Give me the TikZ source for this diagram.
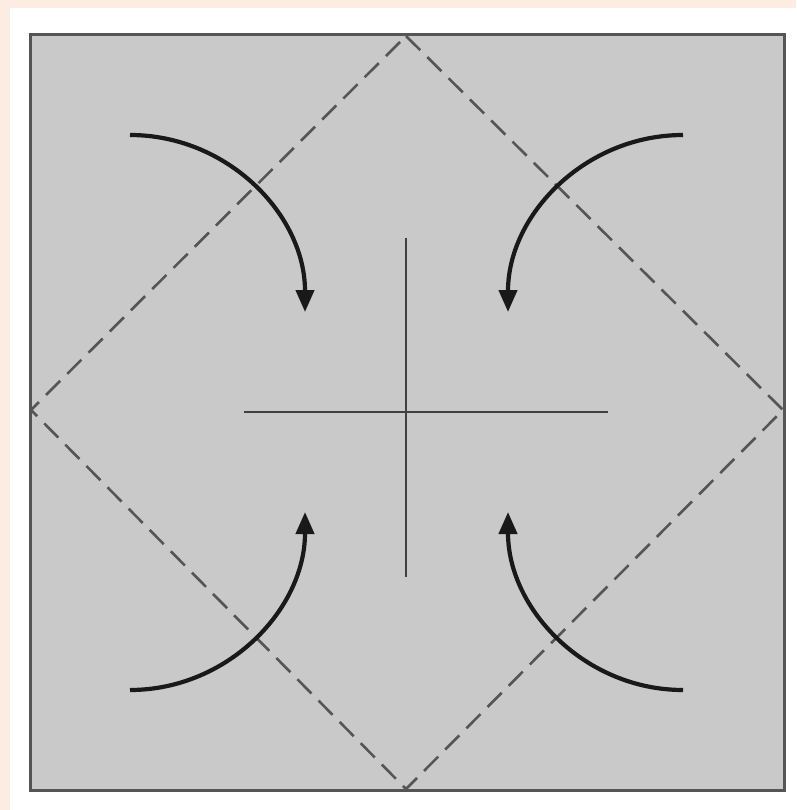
\documentclass[tikz,border=0pt]{standalone}
\usepackage{tikz}
\usetikzlibrary{arrows.meta}

\definecolor{paper}{RGB}{253,236,226}
\definecolor{sheet}{RGB}{201,201,201}
\definecolor{edge}{RGB}{85,85,85}

\begin{document}
\begin{tikzpicture}[
        x=1pt, y=-1pt,
        sheetbox/.style={
            fill=sheet,
            draw=edge,
            line width=3pt
        },
        valleyfold/.style={
            draw=edge,
            line width=2.6pt,
            dash pattern=on 20pt off 10pt
        },
        crease/.style={
            draw=black!75,
            line width=2.3pt
        },
        foldarrow/.style={
            -{Triangle[length=22pt,width=18pt]},
            line width=4.2pt,
            color=black!90
        }
    ]

    % page and frame
    \fill[paper] (0,0) rectangle (796,810);
    \fill[white] (10,8) rectangle (796,810);
    \useasboundingbox (0,0) rectangle (796,810);

    % square sheet
    \draw[sheetbox] (30,35) rectangle (784,790);

    % corners of the diamond
    \coordinate (top) at (406,36);
    \coordinate (left) at (31,410);
    \coordinate (right) at (783,410);
    \coordinate (bottom) at (406,789);
    \draw[valleyfold] (top) -- (right) -- (bottom) -- (left) -- cycle;

    % centre cross
    \coordinate (vtop) at (406,238);
    \coordinate (vbot) at (406,577);
    \coordinate (hleft) at (244,412);
    \coordinate (hright) at (608,412);
    \draw[crease] (vtop) -- (vbot);
    \draw[crease] (hleft) -- (hright);

    % arrows
    \coordinate (tlS) at (130,135);
    \coordinate (tlE) at (305,312);
    \coordinate (trS) at (683,135);
    \coordinate (trE) at (508,312);
    \coordinate (blS) at (130,690);
    \coordinate (blE) at (305,512);
    \coordinate (brS) at (683,690);
    \coordinate (brE) at (508,512);

    \draw[foldarrow] (tlS) to[out=0, in=90] (tlE);
    \draw[foldarrow] (trS) to[out=180, in=90] (trE);
    \draw[foldarrow] (blS) to[out=0, in=-90] (blE);
    \draw[foldarrow] (brS) to[out=180, in=-90] (brE);

\end{tikzpicture}
\end{document}
